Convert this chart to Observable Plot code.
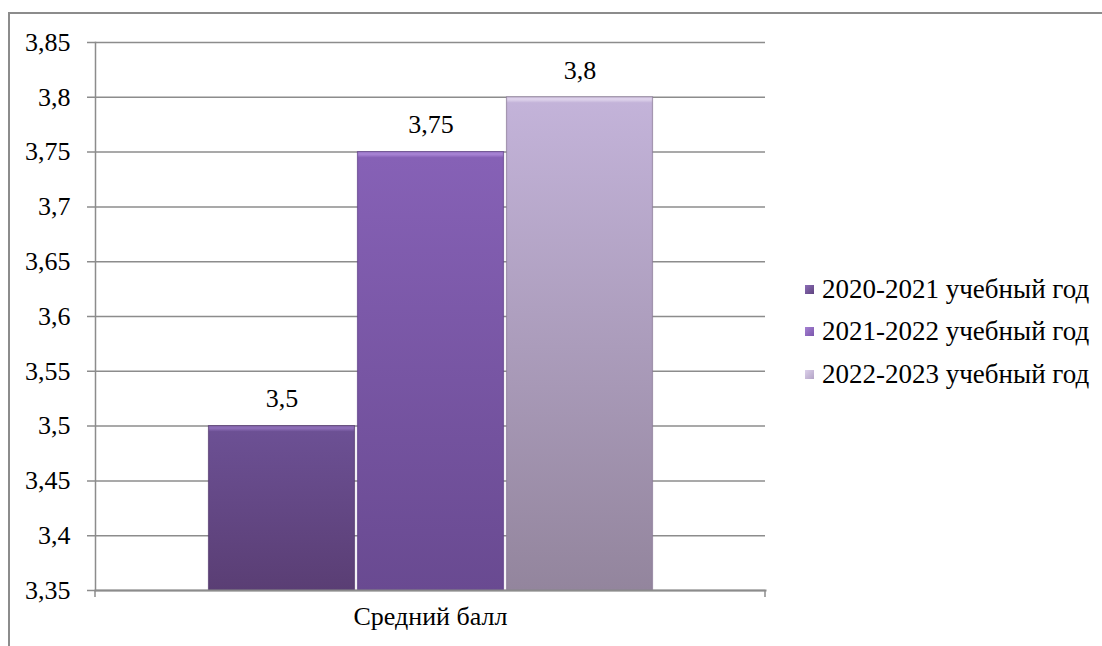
<!DOCTYPE html>
<html>
<head>
<meta charset="utf-8">
<script src="https://cdn.jsdelivr.net/npm/d3@7"></script>
<script src="https://cdn.jsdelivr.net/npm/@observablehq/plot@0.6"></script>
<style>
  html, body { margin: 0; padding: 0; background: #fff; }
  #wrap { position: relative; width: 1102px; height: 646px; overflow: hidden; font-family: "Liberation Serif", "Times New Roman", serif; }
  #border { position: absolute; left: 8px; top: 12px; right: -10px; bottom: -10px; border-top: 2px solid #8c8c8c; border-left: 2px solid #8c8c8c; }
  #chart { position: absolute; left: 0; top: 0; }
  #legend { position: absolute; left: 805px; top: 268px; font-size: 27px; color: #000; }
  .item { display: flex; align-items: center; height: 42.5px; white-space: nowrap; }
  .sw { width: 9px; height: 9px; margin-right: 8px; }
  #chart svg text { font-family: "Liberation Serif", "Times New Roman", serif; }
</style>
</head>
<body>
<div id="wrap">
  <div id="border"></div>
  <div id="chart"></div>
  <div id="legend"></div>
</div>
<script>
const category = ["Средний балл"];
const series = ["2020-2021 учебный год", "2021-2022 учебный год", "2022-2023 учебный год"];
const values = [3.5, 3.75, 3.8];
const labels = ["3,5", "3,75", "3,8"];
const yTicks = [3.35, 3.4, 3.45, 3.5, 3.55, 3.6, 3.65, 3.7, 3.75, 3.8, 3.85];
const gradIds = ["g0", "g1", "g2"];
const gradStops = [
  ["#8c6db6", "#6c5094", "#5a3e74"],
  ["#a581d2", "#8661b6", "#694a91"],
  ["#dcd0ea", "#c3b3d9", "#93859d"]
];
const edgeColors = ["#54396e", "#5f4089", "#8b7b98"];
const swatchColors = ["#5f447f", "#7b56ac", "#b3a3c6"];

const data = series.map((s, i) => ({series: s, value: values[i], label: labels[i], fill: `url(#${gradIds[i]})`, edge: edgeColors[i]}));

const fmt = d => d3.format(".2~f")(d).replace(".", ",");

function defsMark(index, scales, vals, dims) {
  const ns = "http://www.w3.org/2000/svg";
  const defs = document.createElementNS(ns, "defs");
  const y0 = scales.y(3.35);
  gradIds.forEach((id, i) => {
    const h = y0 - scales.y(values[i]);
    const a = 3 / h, b = 6 / h;
    const g = document.createElementNS(ns, "linearGradient");
    g.setAttribute("id", id);
    g.setAttribute("x1", "0"); g.setAttribute("y1", "0");
    g.setAttribute("x2", "0"); g.setAttribute("y2", "1");
    const stops = [[0, gradStops[i][0]], [a, gradStops[i][0]], [b, gradStops[i][1]], [1, gradStops[i][2]]];
    for (const [o, c] of stops) {
      const s = document.createElementNS(ns, "stop");
      s.setAttribute("offset", o);
      s.setAttribute("stop-color", c);
      g.appendChild(s);
    }
    defs.appendChild(g);
  });
  return defs;
}

function edgeTicks(index, scales, vals, dims) {
  const ns = "http://www.w3.org/2000/svg";
  const g = document.createElementNS(ns, "g");
  const yb = dims.height - dims.marginBottom;
  for (const x of [dims.marginLeft, dims.width - dims.marginRight]) {
    const l = document.createElementNS(ns, "line");
    l.setAttribute("x1", x); l.setAttribute("x2", x);
    l.setAttribute("y1", yb); l.setAttribute("y2", yb + 7);
    l.setAttribute("stroke", "#8c8c8c");
    l.setAttribute("stroke-width", 1.5);
    g.appendChild(l);
  }
  return g;
}

const chart = Plot.plot({
  width: 1102,
  height: 646,
  marginLeft: 95,
  marginRight: 337,
  marginTop: 42,
  marginBottom: 56,
  style: {fontFamily: "'Liberation Serif', 'Times New Roman', serif", fontSize: "26px", color: "#000", background: "transparent", overflow: "visible"},
  x: {type: "band", domain: series, paddingInner: 0, paddingOuter: 0.744, axis: null},
  y: {domain: [3.35, 3.85], axis: null, label: null},
  color: {type: "identity"},
  marks: [
    defsMark,
    Plot.ruleY(yTicks, {y: d => d, stroke: "#8c8c8c", strokeWidth: 1.5, insetLeft: -8}),
    Plot.barY(data, {x: "series", y1: 3.35, y2: "value", fill: "fill", stroke: "edge", strokeWidth: 1.2, strokeOpacity: 0.7, insetLeft: 1.5, insetRight: 1.5}),
    Plot.text(data, {x: "series", y: "value", text: "label", dy: -27, fontSize: 26, fill: "#000"}),
    Plot.axisY(yTicks, {tickSize: 0, tickPadding: 25, tickFormat: fmt, fontSize: 26, fill: "#000", textAnchor: "end", label: null}),
    Plot.frame({anchor: "left", stroke: "#8c8c8c", strokeWidth: 1.5}),
    Plot.frame({anchor: "bottom", stroke: "#8c8c8c", strokeWidth: 2}),
    edgeTicks,
    Plot.text(category, {frameAnchor: "bottom", dy: 34, text: d => d, fontSize: 26, fill: "#000"})
  ]
});
document.getElementById("chart").appendChild(chart);

const legend = document.getElementById("legend");
series.forEach((s, i) => {
  const item = document.createElement("div");
  item.className = "item";
  const sw = document.createElement("div");
  sw.className = "sw";
  sw.style.background = `linear-gradient(135deg, ${gradStops[i][0]}, ${swatchColors[i]})`;
  const t = document.createElement("span");
  t.textContent = s;
  item.appendChild(sw);
  item.appendChild(t);
  legend.appendChild(item);
});
</script>
</body>
</html>
